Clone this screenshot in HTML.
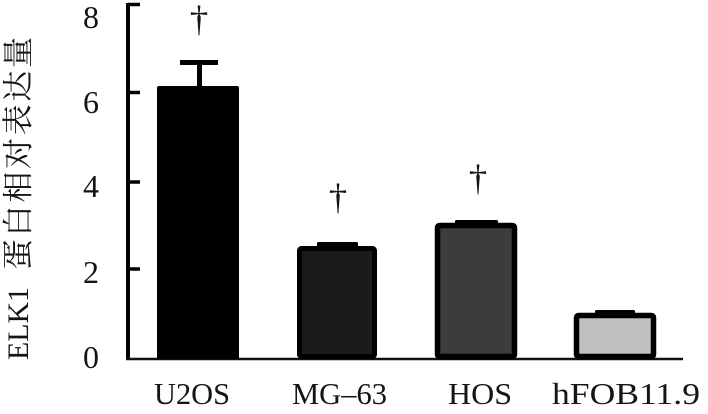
<!DOCTYPE html>
<html>
<head>
<meta charset="utf-8">
<style>
  html, body { margin:0; padding:0; background:#fff; }
  body { width:708px; height:414px; overflow:hidden; }
  svg { display:block; }
  text { font-family: "Liberation Serif", "Noto Serif CJK SC", serif; fill:#151515; }
</style>
</head>
<body>
<svg width="708" height="414" viewBox="0 0 708 414" xmlns="http://www.w3.org/2000/svg">
  <!-- Y axis title -->
  <g transform="rotate(-90)">
    <text x="-360" y="28" font-size="30" textLength="73" lengthAdjust="spacingAndGlyphs">ELK1</text>
    <text x="-270" y="29" font-size="31" textLength="233" lengthAdjust="spacing" font-family="'Noto Serif CJK SC', 'Noto Sans CJK SC', serif">蛋白相对表达量</text>
  </g>

  <!-- Y tick labels -->
  <g font-size="32" text-anchor="end">
    <text x="99" y="28">8</text>
    <text x="99" y="113">6</text>
    <text x="99" y="197">4</text>
    <text x="99" y="283">2</text>
    <text x="99" y="368">0</text>
  </g>

  <!-- Axis -->
  <line x1="128" y1="3" x2="128" y2="360" stroke="#000" stroke-width="4"/>
  <g stroke="#000" stroke-width="3.5">
    <line x1="128" y1="4.5" x2="140" y2="4.5"/>
    <line x1="128" y1="92.5" x2="140" y2="92.5"/>
    <line x1="128" y1="182" x2="140" y2="182"/>
    <line x1="128" y1="269" x2="140" y2="269"/>
  </g>
  <line x1="126" y1="359" x2="683" y2="359" stroke="#111" stroke-width="2.5"/>

  <!-- U2OS -->
  <rect x="180" y="60" width="38" height="5" fill="#000"/>
  <rect x="197" y="60" width="5" height="28" fill="#000"/>
  <rect x="157" y="86" width="82" height="273" rx="2" fill="#000"/>

  <!-- MG-63 -->
  <rect x="317" y="242" width="41" height="6" rx="1.5" fill="#000"/>
  <rect x="299.5" y="248.5" width="75" height="108" rx="2" fill="#1b1b1b" stroke="#000" stroke-width="5"/>

  <!-- HOS -->
  <rect x="455" y="220" width="43" height="6" rx="1.5" fill="#000"/>
  <rect x="437.5" y="225.5" width="77" height="131" rx="2" fill="#3c3c3c" stroke="#000" stroke-width="5.5"/>

  <!-- hFOB11.9 -->
  <rect x="595" y="310" width="40" height="6" rx="1.5" fill="#000"/>
  <rect x="576.5" y="315.5" width="77" height="41" rx="2" fill="#c0c0c0" stroke="#000" stroke-width="5.5"/>

  <!-- Daggers -->
  <g font-size="37" text-anchor="middle">
    <text x="199" y="31">†</text>
    <text x="338" y="209">†</text>
    <text x="478" y="190">†</text>
  </g>

  <!-- X labels -->
  <g font-size="31">
    <text x="154" y="404" textLength="76" lengthAdjust="spacingAndGlyphs">U2OS</text>
    <text x="292" y="404" textLength="95" lengthAdjust="spacingAndGlyphs">MG–63</text>
    <text x="448" y="404" textLength="64" lengthAdjust="spacingAndGlyphs">HOS</text>
    <text x="552" y="404" textLength="148" lengthAdjust="spacingAndGlyphs">hFOB11.9</text>
  </g>
</svg>
</body>
</html>
